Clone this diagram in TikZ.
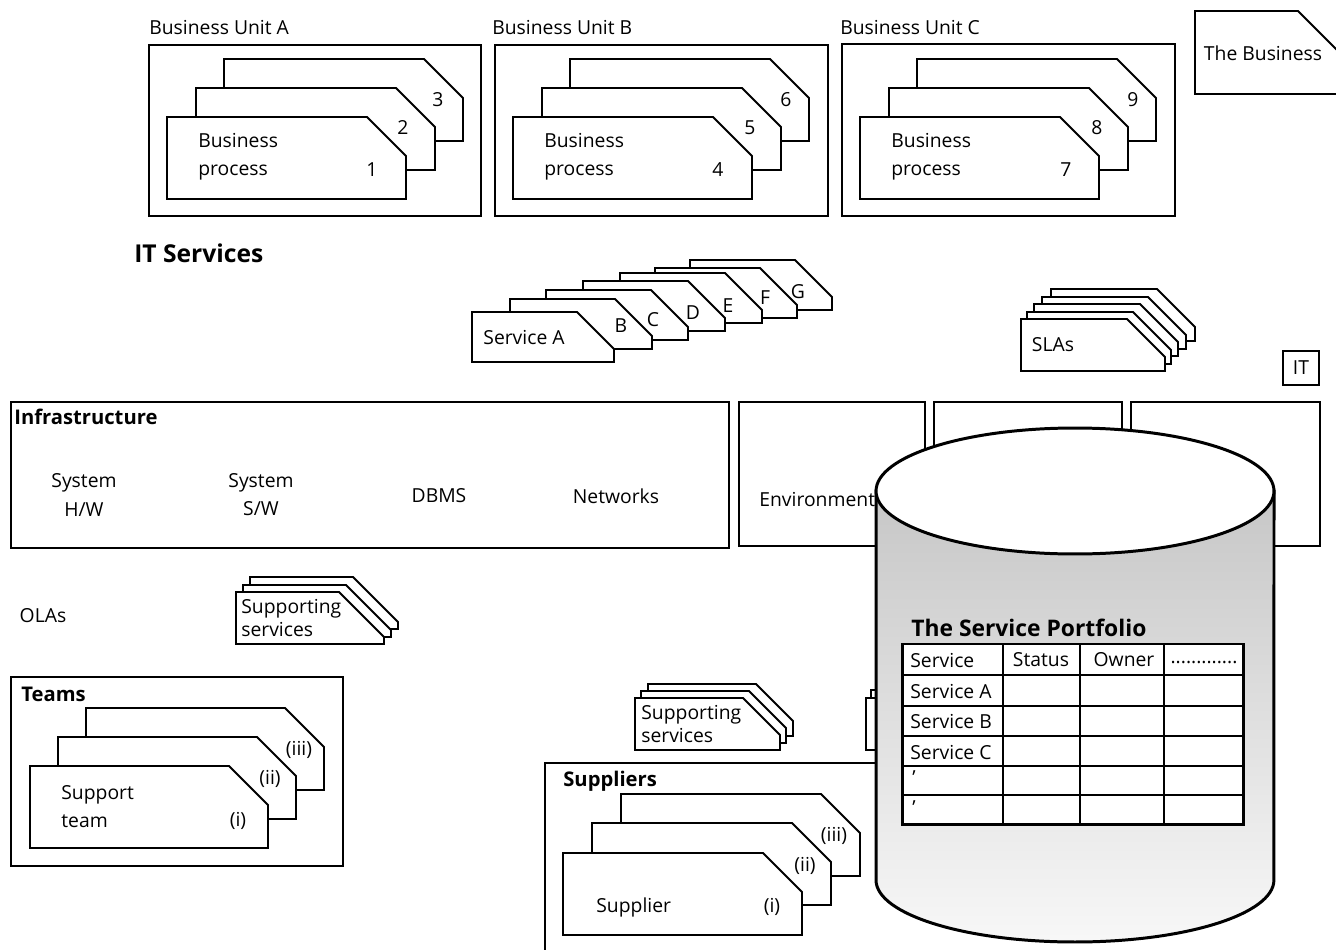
\documentclass[tikz,border=0pt]{standalone}
\usepackage{fontspec}
\setmainfont{Open Sans}

% a card with its top right corner cut off: x, y (top left), width, height, cut
\newcommand{\slantcard}[5]{%
  \draw[card] (#1,#2) -- ++({#3-#5},0) -- ++(#5,#5) -- ++(0,{#4-#5}) -- ++({-#3},0) -- cycle;}

\begin{document}
\begin{tikzpicture}[x=0.02cm, y=-0.02cm,
  box/.style={draw, line width=1.6pt},
  card/.style={draw, fill=white, line width=1.1pt},
  txt/.style={inner sep=0pt, font=\fontsize{11}{16}\selectfont},
  tight/.style={inner sep=0pt, font=\fontsize{11}{13}\selectfont},
  hd/.style={inner sep=0pt, anchor=west, font=\bfseries\fontsize{11.5}{14}\selectfont}]
\useasboundingbox (0,0) rectangle (1336,950);

% the business
\node[txt, anchor=west] (bua) at (149,28) {Business Unit A};
\draw[box] (149,45) rectangle (481,216);
\slantcard{224}{59}{239}{82}{39}
\slantcard{196}{88}{239}{82}{39}
\slantcard{167}{117}{239}{82}{39}
\node[txt, anchor=west, align=left] (bpa) at (198,157) {Business\\process};
\node[txt] (p1) at (372,170) {1};
\node[txt] (p2) at (403,128) {2};
\node[txt] (p3) at (438,100) {3};

\node[txt, anchor=west] (bub) at (492,28) {Business Unit B};
\draw[box] (495,45) rectangle (828,216);
\slantcard{570}{59}{239}{82}{39}
\slantcard{542}{88}{239}{82}{39}
\slantcard{513}{117}{239}{82}{39}
\node[txt, anchor=west, align=left] (bpb) at (544,157) {Business\\process};
\node[txt] (p4) at (718,170) {4};
\node[txt] (p5) at (750,128) {5};
\node[txt] (p6) at (786,100) {6};

\node[txt, anchor=west] (buc) at (840,28) {Business Unit C};
\draw[box] (842,44) rectangle (1175,216);
\slantcard{917}{59}{239}{82}{39}
\slantcard{889}{88}{239}{82}{39}
\slantcard{860}{117}{239}{82}{39}
\node[txt, anchor=west, align=left] (bpc) at (891,157) {Business\\process};
\node[txt] (p7) at (1066,170) {7};
\node[txt] (p8) at (1097,128) {8};
\node[txt] (p9) at (1133,100) {9};

\draw[card] (1195,11) -- (1298,11) -- (1345,58) -- (1345,94) -- (1195,94) -- cycle;
\node[txt] (biz) at (1263,53) {The Business};

% IT services
\node[inner sep=0pt, anchor=west, font=\bfseries\fontsize{14}{16}\selectfont] (its) at (134,253) {IT Services};
\slantcard{690}{260}{142}{50}{37}
\slantcard{655}{268}{142}{50}{37}
\slantcard{620}{273}{142}{50}{37}
\slantcard{583}{281}{142}{50}{37}
\slantcard{546}{290}{142}{50}{37}
\slantcard{510}{299}{142}{50}{37}
\slantcard{472}{312}{142}{50}{37}
\node[txt] (sa) at (524,337) {Service A};
\node[txt] (sb) at (621,326) {B};
\node[txt] (sc) at (653,320) {C};
\node[txt] (sd) at (693,313) {D};
\node[txt] (se) at (728,306) {E};
\node[txt] (sf) at (765,298) {F};
\node[txt] (sg) at (798,292) {G};

\slantcard{1051}{289}{144}{52}{38}
\slantcard{1042}{297}{144}{52}{38}
\slantcard{1034}{304}{144}{52}{38}
\slantcard{1027}{312}{144}{52}{38}
\slantcard{1021}{319}{144}{52}{38}
\node[txt] (slas) at (1053,345) {SLAs};

\node[draw, line width=1pt, minimum width=0.72cm, minimum height=0.68cm, txt] (it) at (1301,368) {IT};

% infrastructure
\draw[box] (11,402) rectangle (729,548);
\node[hd] (infra) at (14,417) {Infrastructure};
\node[txt, align=center] (hw) at (84,495) {System\\H/W};
\node[txt, align=center] (sw) at (261,495) {System\\S/W};
\node[txt] (dbms) at (439,496) {DBMS};
\node[txt] (net) at (616,496) {Networks};

\draw[box] (739,402) rectangle (925,546);
\draw[box] (934,402) rectangle (1122,546);
\draw[box] (1131,402) rectangle (1320,546);
\node[txt, anchor=west] (env) at (759,499) {Environment};

% OLAs and teams
\node[txt] (olas) at (43,616) {OLAs};
\slantcard{250}{577}{148}{52}{45}
\slantcard{243}{585}{148}{52}{45}
\slantcard{236}{592}{148}{52}{45}
\node[tight, anchor=west, align=left] (ssa) at (241,618) {Supporting\\services};

\draw[box] (11,677) rectangle (343,866);
\node[hd] (teams) at (21,694) {Teams};
\slantcard{86}{708}{238}{82}{39}
\slantcard{58}{737}{238}{82}{39}
\slantcard{30}{766}{238}{82}{39}
\node[txt, anchor=west, align=left] (supt) at (61,807) {Support\\team};
\node[txt] (t1) at (238,821) {(i)};
\node[txt] (t2) at (270,779) {(ii)};
\node[txt] (t3) at (299,750) {(iii)};

% suppliers
\slantcard{648}{684}{145}{52}{37}
\slantcard{641}{691}{145}{52}{37}
\slantcard{635}{698}{145}{52}{37}
\node[tight, anchor=west, align=left] (ssb) at (641,724) {Supporting\\services};

\draw[box] (960,763) -- (545,763) -- (545,975);
\node[hd] (supl) at (563,781) {Suppliers};
\slantcard{621}{794}{239}{82}{39}
\slantcard{592}{823}{239}{82}{39}
\slantcard{563}{853}{239}{82}{39}
\node[txt, anchor=west] (sup) at (596,907) {Supplier};
\node[txt] (u1) at (772,907) {(i)};
\node[txt] (u2) at (805,866) {(ii)};
\node[txt] (u3) at (834,836) {(iii)};

\draw[line width=1pt] (866,698) rectangle (880,750);
\draw[line width=1pt] (871,698) -- (871,690) -- (880,690);

% the service portfolio
\path[draw, line width=1.7pt, top color=black!22, bottom color=black!3]
  (876,491) -- (876,880) arc[start angle=180, end angle=360, x radius=3.98cm, y radius=1.24cm]
  -- (1274,491) -- cycle;
\draw[line width=1.7pt, fill=white] (1075,491) ellipse [x radius=3.98cm, y radius=1.26cm];

\node[anchor=west, inner sep=0pt, font=\bfseries\fontsize{13}{15}\selectfont] (spt) at (911,628) {The Service Portfolio};
\draw[line width=1.7pt, fill=white] (902,644) rectangle (1243,824);
\draw[line width=1.2pt] (902,675) -- (1243,675);
\draw[line width=1.2pt] (902,706) -- (1243,706);
\draw[line width=1.2pt] (902,736) -- (1243,736);
\draw[line width=1.2pt] (902,766) -- (1243,766);
\draw[line width=1.2pt] (902,795) -- (1243,795);
\draw[line width=1.2pt] (1003,644) -- (1003,824);
\draw[line width=1.2pt] (1080,644) -- (1080,824);
\draw[line width=1.2pt] (1164,644) -- (1164,824);
\node[txt, anchor=west] (hsv) at (910,660) {Service};
\node[txt] (hst) at (1041,660) {Status};
\node[txt] (how) at (1124,660) {Owner};
\node[txt] (hdt) at (1204,662) {.............};
\node[txt, anchor=west] (ra) at (910,691) {Service A};
\node[txt, anchor=west] (rb) at (910,721) {Service B};
\node[txt, anchor=west] (rc) at (910,752) {Service C};
\node[txt, anchor=west] (rd) at (912,778) {’};
\node[txt, anchor=west] (re) at (912,808) {’};
\end{tikzpicture}
\end{document}
